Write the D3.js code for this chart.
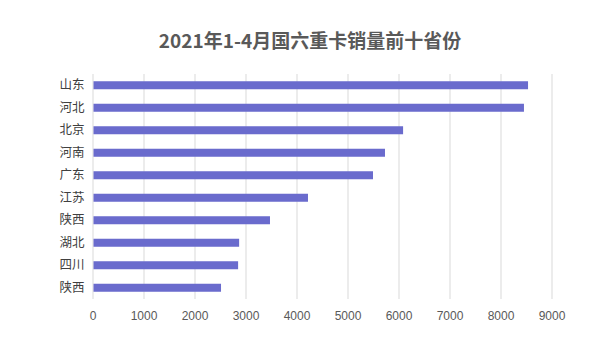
<!DOCTYPE html>
<html lang="zh">
<head>
<meta charset="utf-8">
<title>2021年1-4月国六重卡销量前十省份</title>
<script src="https://cdn.jsdelivr.net/npm/d3@7"></script>
<style>
body { margin: 0; background: #fff; }
.title { font-family: "Noto Sans CJK SC", sans-serif; font-size: 19px; font-weight: bold; fill: #595959; }
.axis text { font-family: "Liberation Sans", "Noto Sans CJK SC", sans-serif; font-size: 12px; fill: #595959; }
.cat text { font-family: "Noto Sans CJK SC", sans-serif; font-size: 12.5px; fill: #404040; }
.grid line { stroke: #d9d9d9; stroke-width: 1; }
</style>
</head>
<body>
<script>
var provinces = ["山东", "河北", "北京", "河南", "广东", "江苏", "陕西", "湖北", "四川", "陕西 "];
var sales = [8540, 8460, 6090, 5735, 5500, 4225, 3480, 2875, 2855, 2520];
var xTicks = [0, 1000, 2000, 3000, 4000, 5000, 6000, 7000, 8000, 9000];

var W = 594, H = 351;
var margin = {top: 74, right: 42.5, bottom: 52, left: 92.5};
var w = W - margin.left - margin.right,
    h = H - margin.top - margin.bottom;

var svg = d3.select("body").append("svg")
    .attr("width", W).attr("height", H);

svg.append("text")
    .attr("class", "title")
    .attr("x", 310)
    .attr("y", 48)
    .attr("text-anchor", "middle")
    .text("2021年1-4月国六重卡销量前十省份");

var g = svg.append("g")
    .attr("transform", "translate(" + margin.left + "," + margin.top + ")");

var x = d3.scaleLinear().domain([0, 9000]).range([0, w]);
var y = d3.scaleBand().domain(provinces).range([0, h])
    .paddingInner(0.644).paddingOuter(0.322);

// vertical grid lines
g.append("g").attr("class", "grid")
  .selectAll("line")
  .data(xTicks)
  .enter().append("line")
    .attr("x1", function(d) { return Math.round(x(d)) + 0.5; })
    .attr("x2", function(d) { return Math.round(x(d)) + 0.5; })
    .attr("y1", 0)
    .attr("y2", h);

g.selectAll(".bar")
  .data(sales)
  .enter().append("rect")
    .attr("class", "bar")
    .attr("x", x(0) + 1)
    .attr("y", function(d, i) { return y(provinces[i]); })
    .attr("height", y.bandwidth())
    .attr("width", function(d) { return x(d) - x(0) - 1; })
    .attr("fill", "#6a6bcd");

var xAxis = d3.axisBottom(x).tickValues(xTicks).tickSize(0).tickPadding(12)
    .tickFormat(d3.format("d"));
g.append("g").attr("class", "axis")
    .attr("transform", "translate(0," + h + ")")
    .call(xAxis)
    .call(function(s) { s.select(".domain").remove(); });

var yAxis = d3.axisLeft(y).tickSize(0).tickPadding(8)
    .tickFormat(function(d) { return d.trim(); });
g.append("g").attr("class", "cat")
    .call(yAxis)
    .call(function(s) { s.select(".domain").remove(); });
</script>
</body>
</html>
